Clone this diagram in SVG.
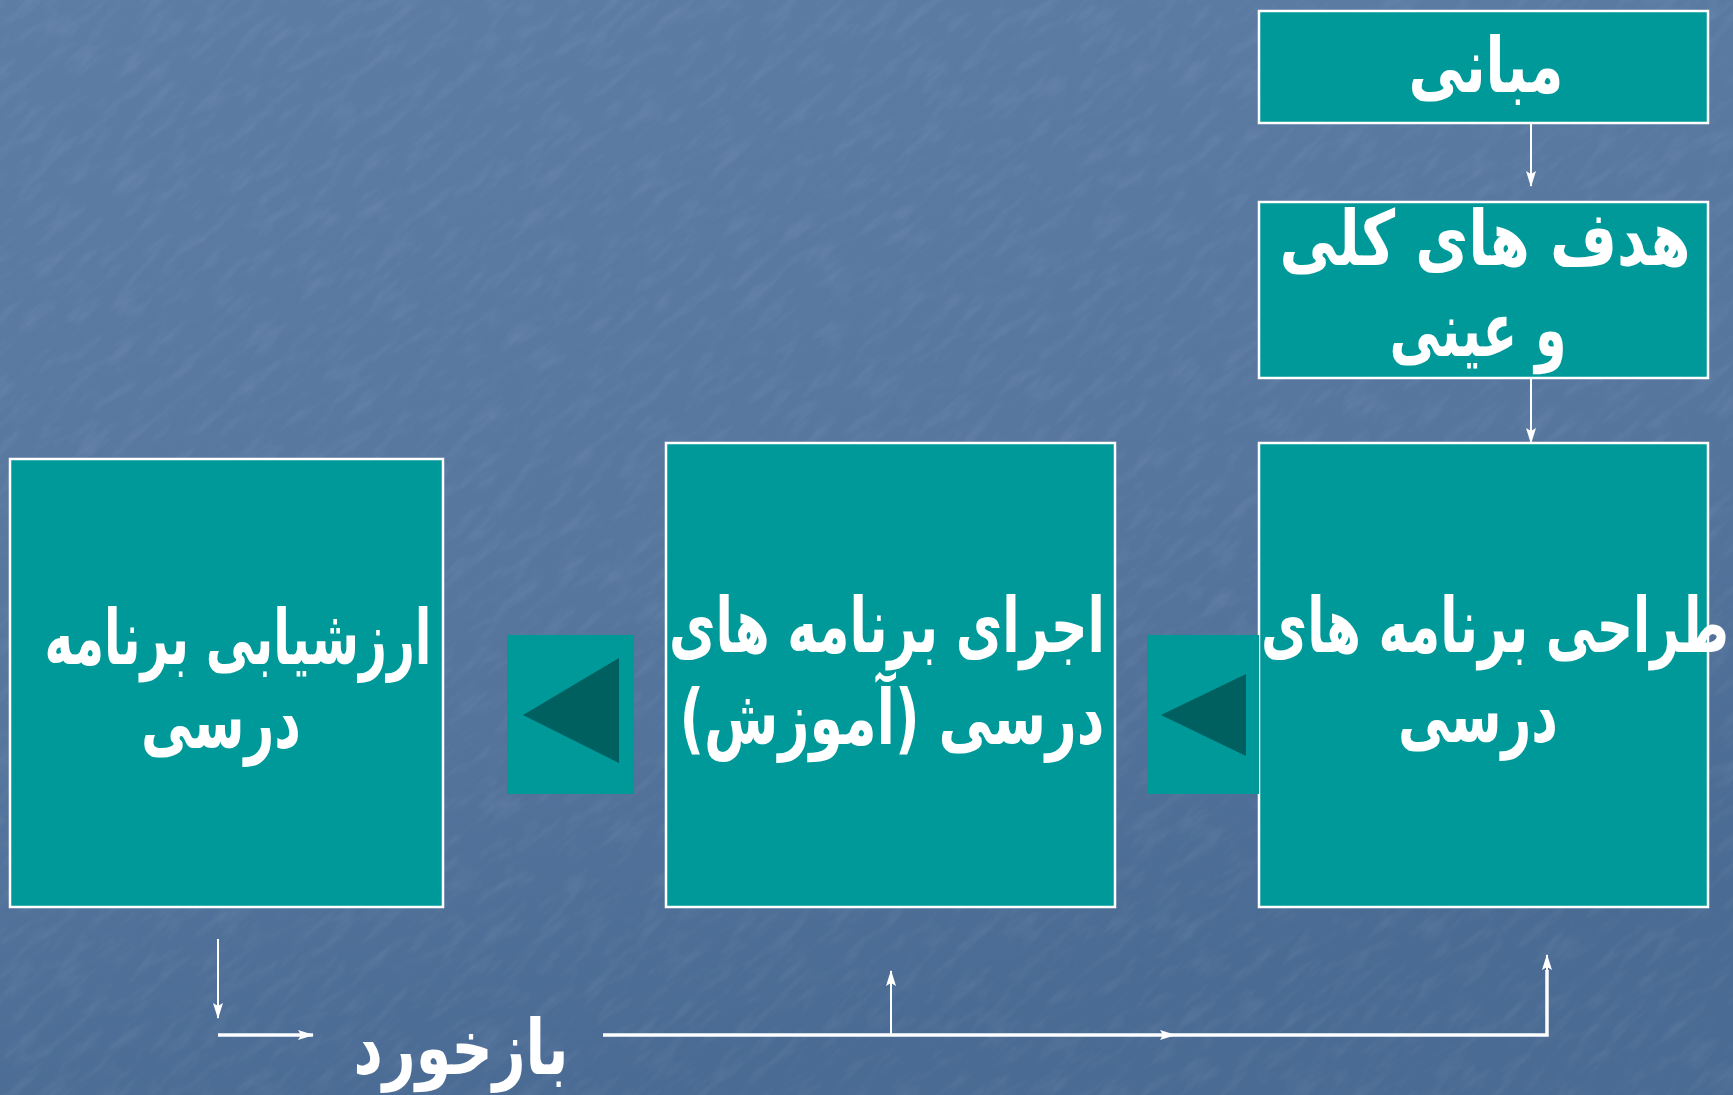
<svg xmlns="http://www.w3.org/2000/svg" width="1733" height="1095" viewBox="0 0 1733 1095">
<style>
.box{fill:#009999;stroke:#ffffff;stroke-width:2.5}
.sq{fill:#009999}
.tri{fill:#005f5f}
.t{fill:#ffffff;font-family:"DejaVu Sans","Noto Sans",sans-serif;font-weight:bold;font-size:76px;text-anchor:middle;direction:rtl}
.ln{stroke:#ffffff;stroke-width:2;fill:none}
.lnb{stroke:#ffffff;stroke-width:3.5;fill:none}
</style>
<defs>
<linearGradient id="bg" x1="0" y1="0" x2="0.3" y2="1">
<stop offset="0" stop-color="#5d7da5"/>
<stop offset="0.6" stop-color="#56769e"/>
<stop offset="1" stop-color="#4a6b94"/>
</linearGradient>
<filter id="tex" x="0" y="0" width="100%" height="100%">
<feTurbulence type="fractalNoise" baseFrequency="0.025 0.09" numOctaves="4" seed="7"/>
<feColorMatrix type="matrix" values="0 0 0 0 1  0 0 0 0 1  0 0 0 0 1  0 0 0 1.3 -0.6"/>
</filter>
<marker id="ah" viewBox="0 0 16 10" refX="15" refY="5" markerWidth="16" markerHeight="10" markerUnits="userSpaceOnUse" orient="auto">
<path d="M0,0 L16,5 L0,10 L3,5 z" fill="#ffffff"/>
</marker>
</defs>
<rect width="1733" height="1095" fill="url(#bg)"/>
<g transform="rotate(-40 866 547)"><rect x="-600" y="-700" width="2900" height="2500" filter="url(#tex)" opacity="0.11"/></g>

<g id="connectors">
<line class="ln" x1="1531" y1="123" x2="1531" y2="186" marker-end="url(#ah)"/>
<line class="ln" x1="1531" y1="378" x2="1531" y2="443" marker-end="url(#ah)"/>
<line class="ln" x1="218" y1="939" x2="218" y2="1018" marker-end="url(#ah)"/>
<line class="lnb" x1="218" y1="1035" x2="313" y2="1035" marker-end="url(#ah)"/>
<polyline class="lnb" points="603,1035 1547,1035 1547,970"/>
<line class="ln" x1="1547" y1="1000" x2="1547" y2="955" marker-end="url(#ah)"/>
<line class="ln" x1="891" y1="1035" x2="891" y2="971" marker-end="url(#ah)"/>
<line class="ln" x1="1100" y1="1035" x2="1175" y2="1035" marker-end="url(#ah)"/>
</g>

<g id="mabani">
<rect class="box" x="1259" y="11" width="449" height="112"/>
<text class="t" x="1486" y="92" textLength="155" lengthAdjust="spacingAndGlyphs">مبانی</text>
</g>
<g id="hadaf">
<rect class="box" x="1259" y="202" width="449" height="176"/>
<text class="t" x="1485" y="265" textLength="411" lengthAdjust="spacingAndGlyphs">هدف های کلی</text>
<text class="t" x="1478" y="356" textLength="177" lengthAdjust="spacingAndGlyphs">و عینی</text>
</g>
<g id="tarahi">
<rect class="box" x="1259" y="443" width="449" height="464"/>
<text class="t" x="1495" y="652" textLength="468" lengthAdjust="spacingAndGlyphs">طراحی برنامه های</text>
<text class="t" x="1478" y="742" textLength="160" lengthAdjust="spacingAndGlyphs">درسی</text>
</g>
<g id="ejra">
<rect class="box" x="666" y="443" width="449" height="464"/>
<text class="t" x="887" y="652" textLength="436" lengthAdjust="spacingAndGlyphs">اجرای برنامه های</text>
<text class="t" x="892" y="744" textLength="425" lengthAdjust="spacingAndGlyphs">درسی (آموزش)</text>
</g>
<g id="arzeshyabi">
<rect class="box" x="10" y="459" width="433" height="448"/>
<text class="t" x="238" y="664" textLength="387" lengthAdjust="spacingAndGlyphs">ارزشیابی برنامه</text>
<text class="t" x="221" y="748" textLength="160" lengthAdjust="spacingAndGlyphs">درسی</text>
</g>
<g id="arrow-btn-1">
<rect class="sq" x="507" y="635" width="127" height="159"/>
<polygon class="tri" points="523,715 619,658 619,763"/>
</g>
<g id="arrow-btn-2">
<rect class="sq" x="1147" y="635" width="112" height="159"/>
<polygon class="tri" points="1161,715 1246,674 1246,756"/>
</g>
<g id="feedback-label">
<text class="t" x="461" y="1074" textLength="215" lengthAdjust="spacingAndGlyphs">بازخورد</text>
</g>
</svg>
